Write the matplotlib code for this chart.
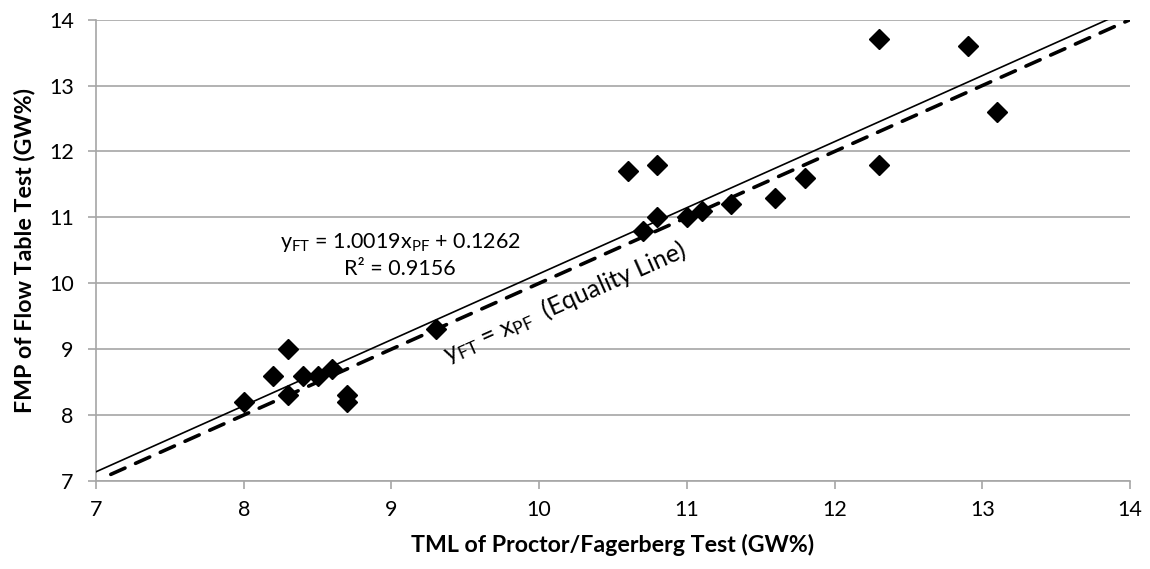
import matplotlib
matplotlib.use("Agg")
import matplotlib.pyplot as plt
import numpy as np

plt.rcParams['font.family'] = ['Lato', 'DejaVu Sans']
plt.rcParams['mathtext.fontset'] = 'custom'
plt.rcParams['mathtext.rm'] = 'Lato'

# Data (TML of Proctor/Fagerberg test vs FMP of Flow Table test)
tml = [8.0, 8.2, 8.3, 8.3, 8.4, 8.5, 8.6, 8.7, 8.7, 9.3,
       10.6, 10.8, 10.7, 10.8, 11.0, 11.1, 11.3, 11.6, 11.8,
       12.3, 12.3, 12.9, 13.1]
fmp = [8.2, 8.6, 9.0, 8.3, 8.6, 8.6, 8.7, 8.3, 8.2, 9.3,
       11.7, 11.8, 10.8, 11.0, 11.0, 11.1, 11.2, 11.3, 11.6,
       13.7, 11.8, 13.6, 12.6]

slope = 1.0019
intercept = 0.1262
r2 = 0.9156
trend_x = [7.0, 14.0]
equality_x = [7.1, 14.0]

xticks = [7, 8, 9, 10, 11, 12, 13, 14]
yticks = [7, 8, 9, 10, 11, 12, 13, 14]

fig = plt.figure(figsize=(11.5, 5.69), dpi=100)
ax = fig.add_axes([0.0835, 0.1547, 0.8991, 0.8107])

grid_color = '#a6a6a6'
ax.set_xlim(7, 14)
ax.set_ylim(7, 14)
ax.set_xticks(xticks)
ax.set_yticks(yticks)
ax.yaxis.grid(True, color=grid_color, linewidth=1.2)
ax.set_axisbelow(True)
for s in ['top', 'right']:
    ax.spines[s].set_visible(False)
for s in ['left', 'bottom']:
    ax.spines[s].set_color(grid_color)
    ax.spines[s].set_linewidth(1.2)
ax.tick_params(axis='both', direction='out', length=6, width=1.2,
               color=grid_color, labelsize=15.5)
ax.tick_params(axis='x', pad=8)
ax.tick_params(axis='y', pad=10)

tx = np.array(trend_x)
ax.plot(tx, slope * tx + intercept, color='black', linewidth=1.2, zorder=3)
ax.plot(equality_x, equality_x, color='black', linewidth=2.6,
        dashes=(4.3, 3.2), dash_capstyle='round', zorder=3)
ax.plot(tml, fmp, linestyle='none', marker='D', markersize=10,
        color='black', zorder=4)

ax.text(9.06, 10.53, r'$\mathregular{y_{FT}}$ = 1.0019$\mathregular{x_{PF}}$ + 0.1262',
        ha='center', va='baseline', fontsize=15.5)
ax.text(9.06, 10.12, 'R² = %.4f' % r2, ha='center', va='baseline', fontsize=15.5)
ax.text(9.38, 8.80, r'$\mathregular{y_{FT}}$ = $\mathregular{x_{PF}}$  (Equality Line)',
        ha='left', va='baseline', rotation=23.9, rotation_mode='anchor',
        fontsize=18)

ax.set_xlabel('TML of Proctor/Fagerberg Test (GW%)', fontsize=16.7,
              fontweight='bold', labelpad=10)
ax.set_ylabel('FMP of Flow Table Test (GW%)', fontsize=16.7,
              fontweight='bold', labelpad=10)

fig.savefig('out.png', dpi=100)
